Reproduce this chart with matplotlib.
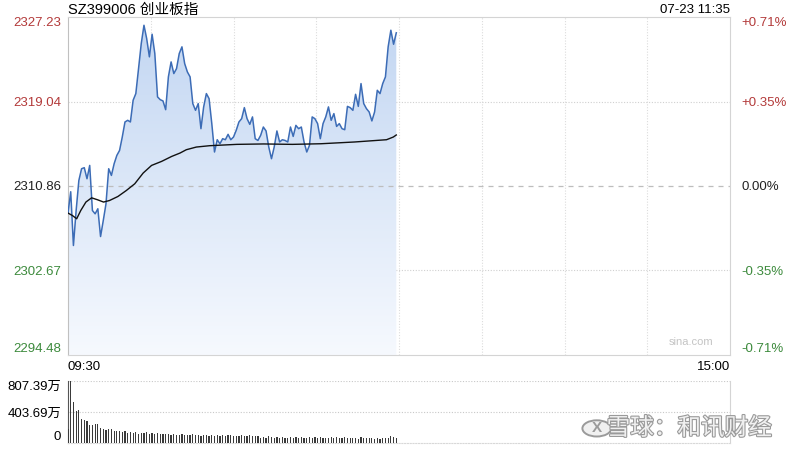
import matplotlib
matplotlib.use('Agg')
import matplotlib.pyplot as plt
import matplotlib.patheffects as pe
from matplotlib.patches import Circle
from matplotlib.colors import LinearSegmentedColormap
import numpy as np

plt.rcParams['font.family'] = ['Liberation Sans', 'Noto Sans CJK SC', 'DejaVu Sans']

# 数据
titulo = 'SZ399006 创业板指'
fecha = '07-23 11:35'
pre_close = 2310.86
y_ticks = [2327.23, 2319.04, 2310.86, 2302.67, 2294.48]
vol_ticks = [807.39, 403.69, 0]
vol_labels = ['807.39万', '403.69万', '0']
time_labels = ['09:30', '15:00']
slots = 244

precios = [
    2308.23, 2310.30, 2305.09, 2308.48, 2311.39, 2312.53, 2312.63, 2311.56, 2312.85, 2308.48,
    2308.16, 2308.65, 2305.96, 2307.51, 2309.13, 2312.53, 2311.88, 2313.01, 2313.82, 2314.30,
    2315.60, 2317.06, 2317.22, 2317.06, 2319.16, 2319.81, 2322.23, 2324.66, 2326.43, 2325.14,
    2323.37, 2325.56, 2323.69, 2319.49, 2319.22, 2319.10, 2318.25, 2321.43, 2322.88, 2321.75,
    2322.23, 2323.69, 2324.34, 2322.72,
    2321.91, 2321.43, 2318.84, 2318.19, 2318.84, 2316.41, 2318.52, 2319.81, 2319.32, 2316.90,
    2314.15, 2315.34, 2314.95, 2315.44, 2315.34, 2315.86, 2315.34, 2315.60, 2316.25, 2317.06,
    2317.38, 2318.45, 2317.38, 2316.83, 2317.55, 2315.44, 2315.27, 2315.76, 2316.57, 2316.19,
    2314.63, 2313.50, 2314.63, 2316.19, 2315.12, 2315.34, 2315.27, 2315.12, 2316.57, 2315.66,
    2316.73, 2316.41, 2316.57, 2315.12, 2314.15, 2314.79, 2317.55, 2317.38, 2316.90,
    2315.44, 2316.90, 2317.55, 2318.52, 2317.22, 2317.87, 2316.63, 2316.90, 2316.41, 2316.31,
    2318.57, 2318.45, 2318.19, 2319.74, 2318.57, 2320.78, 2318.84, 2318.35, 2318.03, 2317.16,
    2318.03, 2320.13, 2319.81, 2320.78, 2321.43, 2324.34, 2325.95, 2324.59, 2325.70,
]

# 均价线 (分钟序号, 价格)
media_idx = [0, 1.6, 3.2, 4.7, 6.6, 8.7, 10.9, 13.1, 15.3, 18.4, 21.5, 24.6, 27.7, 30.8,
             34.5, 38.2, 41.3, 43.6, 47.3, 52.2, 62.2, 72.1, 82.7, 93.2, 105.6, 117.4, 119.9, 121]
media_val = [2308.23, 2308.00, 2307.68, 2308.48, 2309.30, 2309.71, 2309.52, 2309.30, 2309.45,
             2309.84, 2310.42, 2311.07, 2312.11, 2312.85, 2313.24, 2313.72, 2314.05, 2314.37,
             2314.63, 2314.76, 2314.89, 2314.93, 2314.89, 2314.95, 2315.12, 2315.34, 2315.60, 2315.80]

# 成交量 (万)
volumen = [
    183, 807, 533, 415, 428, 314, 297, 284, 240, 240, 253, 253, 196, 183, 174, 183, 183, 153, 157, 153,
    140, 150, 135, 145, 128, 140, 120, 132, 125, 138, 118, 128, 120, 125, 115, 122, 112, 118, 110, 120, 108,
    105, 115, 100, 110, 102, 112, 98, 106, 95, 108, 100, 92, 104, 96, 110, 94, 100, 90, 98, 104, 92, 96, 88,
    100, 94, 86, 98, 90, 95, 88,
    70, 78, 65, 85, 72, 68, 80, 66, 74, 70, 62, 76, 68, 72, 64, 80, 70, 66, 74, 60, 72, 68, 78, 64, 70, 62,
    74, 66, 72, 60, 68, 76, 64, 70, 62, 66, 58, 72, 64, 68, 60, 66, 56, 62, 58, 64, 60, 66, 90, 84, 70,
]

x = np.arange(len(precios))

fig = plt.figure(figsize=(8, 4.5), dpi=100)
ax = fig.add_axes([0.085, 0.2111, 0.8275, 0.7511])
axv = fig.add_axes([0.085, 0.0156, 0.8275, 0.1378])

ymin, ymax = y_ticks[-1], y_ticks[0]

# 渐变填充
grad = np.linspace(0, 1, 256).reshape(-1, 1)
cmap = LinearSegmentedColormap.from_list('azul', ['#f6f9fe', '#c2d6f2'])
poly = ax.fill_between(x, precios, ymin, color='none')
img = ax.imshow(grad, aspect='auto', cmap=cmap, origin='lower',
                extent=(0, len(precios) - 1, ymin, ymax), zorder=1)
img.set_clip_path(poly.get_paths()[0], transform=ax.transData)
ax.set_xlim(0, slots)
ax.set_ylim(ymin, ymax)

# 网格
for k in range(1, 8):
    ax.axvline(slots / 8 * k, color='#dcdcdc', lw=0.8, ls=(0, (1, 1.5)), zorder=0.5)
for v in [y_ticks[1], y_ticks[3]]:
    ax.axhline(v, color='#d0d0d0', lw=0.8, ls=(0, (1, 1.5)), zorder=0.5)
ax.axhline(pre_close, color='#bdbdbd', lw=0.9, ls=(0, (4, 4)), zorder=2)

ax.plot(x, precios, color='#3c6cb6', lw=1.1, zorder=3)
ax.plot(media_idx, media_val, color='#111111', lw=1.0, zorder=4)

for s in ax.spines.values():
    s.set_color('#d4d4d4')
    s.set_linewidth(0.8)
ax.spines['left'].set_color('#c0c0c0')

# 左右刻度
colores = ['#b33a3a', '#b33a3a', '#222222', '#3c8a3c', '#3c8a3c']
ax.set_xticks([])
ax.set_yticks(y_ticks)
ax.set_yticklabels([f'{v:.2f}' for v in y_ticks], fontsize=9.5)
ax.tick_params(axis='y', length=0, pad=5)
for lab, c in zip(ax.get_yticklabels(), colores):
    lab.set_color(c)
ax.get_yticklabels()[0].set_va('top')
ax.get_yticklabels()[-1].set_va('bottom')

ax2 = ax.twinx()
ax2.set_ylim(ymin, ymax)
ax2.set_yticks(y_ticks)
pct = [(v / pre_close - 1) * 100 for v in y_ticks]
pct_labels = []
for p in pct:
    if abs(p) < 0.001:
        pct_labels.append('0.00%')
    elif p > 0:
        pct_labels.append(f'+{p:.2f}%')
    else:
        pct_labels.append(f'{p:.2f}%')
ax2.set_yticklabels(pct_labels, fontsize=9.5)
ax2.tick_params(axis='y', length=0, pad=8)
for lab, c in zip(ax2.get_yticklabels(), colores):
    lab.set_color(c)
ax2.get_yticklabels()[0].set_va('top')
ax2.get_yticklabels()[-1].set_va('bottom')
for s in ax2.spines.values():
    s.set_visible(False)

# 文字
ax.text(0, 1.022, titulo, transform=ax.transAxes, fontsize=10.5, ha='left', va='center')
ax.text(1, 1.022, fecha, transform=ax.transAxes, fontsize=9.5, ha='right', va='center')
ax.text(0, -0.036, time_labels[0], transform=ax.transAxes, fontsize=9.5, ha='left', va='center')
ax.text(1, -0.036, time_labels[1], transform=ax.transAxes, fontsize=9.5, ha='right', va='center')
ax.text(0.975, 0.025, 'sina.com', transform=ax.transAxes, fontsize=8, color='#c4c4c4',
        ha='right', va='bottom')

# 成交量
axv.bar(x, volumen, width=0.45, color='#3a3a3a', zorder=3)
axv.set_xlim(0, slots)
axv.set_ylim(0, vol_ticks[0])
axv.set_xticks([])
axv.set_yticks(vol_ticks)
axv.set_yticklabels(vol_labels, fontsize=9.5)
axv.tick_params(axis='y', length=0, pad=5)
axv.get_yticklabels()[0].set_va('top')
axv.get_yticklabels()[-1].set_va('bottom')
axv.axhline(vol_ticks[0], color='#c8c8c8', lw=0.8, ls=(0, (1, 1.5)))
axv.axhline(vol_ticks[1], color='#c8c8c8', lw=0.8, ls=(0, (1, 1.5)))
axv.spines['top'].set_visible(False)
axv.spines['left'].set_color('#555555')
axv.spines['right'].set_color('#d4d4d4')
axv.spines['bottom'].set_color('#d8d8d8')
axv.spines['bottom'].set_linestyle((0, (1, 1.5)))

# 水印
fig.text(0.965, 0.048, '雪球：和讯财经', fontsize=17, color='#f0f0f0', ha='right', va='center',
         family=['Noto Sans CJK SC'],
         path_effects=[pe.withStroke(linewidth=1.6, foreground='#9a9a9a')])
fig.patches.append(Circle((0.746, 0.048), 0.018, transform=fig.transFigure,
                          facecolor='#f0f0f0', edgecolor='#9a9a9a', lw=1.4))
fig.text(0.746, 0.048, 'X', fontsize=11, color='#9a9a9a', ha='center', va='center', weight='bold')

fig.savefig('out.png', dpi=100)
